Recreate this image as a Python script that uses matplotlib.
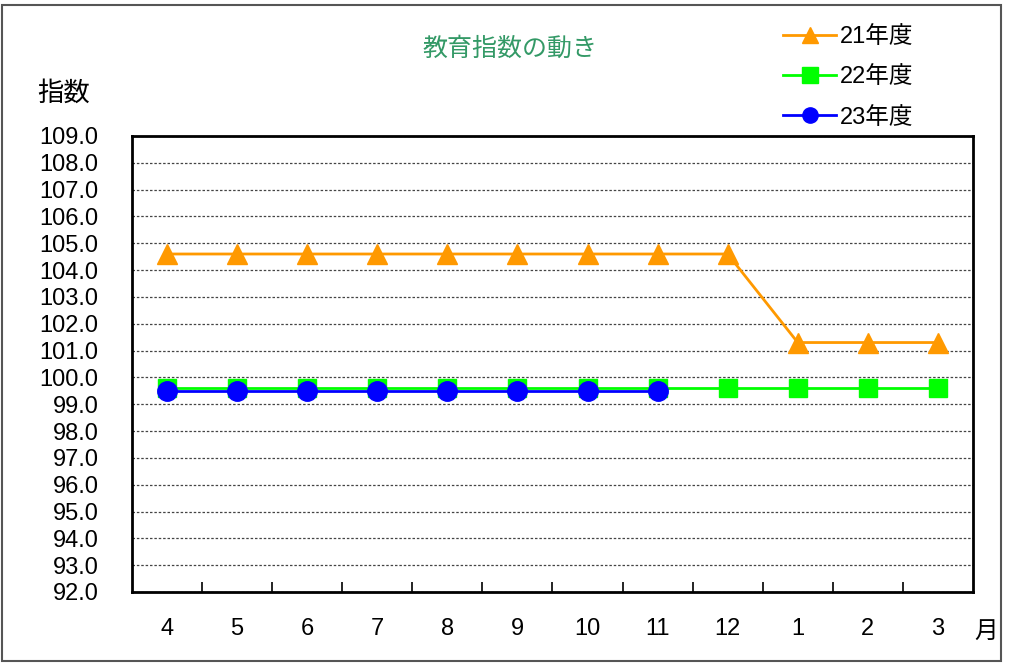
import numpy as np
import matplotlib
matplotlib.use("Agg")
import matplotlib.pyplot as plt
from matplotlib.patches import Rectangle

plt.rcParams['font.family'] = ['Liberation Sans', 'Noto Sans CJK JP', 'DejaVu Sans']

# データ
tsuki = ['4', '5', '6', '7', '8', '9', '10', '11', '12', '1', '2', '3']
nendo21 = [104.6, 104.6, 104.6, 104.6, 104.6, 104.6, 104.6, 104.6, 104.6, 101.3, 101.3, 101.3]
nendo22 = [99.6, 99.6, 99.6, 99.6, 99.6, 99.6, 99.6, 99.6, 99.6, 99.6, 99.6, 99.6]
nendo23 = [99.5, 99.5, 99.5, 99.5, 99.5, 99.5, 99.5, 99.5]
y_ticks = np.arange(92.0, 109.5, 1.0)

fig = plt.figure(figsize=(10.09, 6.63), dpi=100)
ax = fig.add_axes([0.1308, 0.1071, 0.8335, 0.6878])

x = np.arange(len(tsuki))
l21, = ax.plot(x, nendo21, color='#FF9900', lw=2, marker='^', ms=15, zorder=3, label='21年度')
l22, = ax.plot(x, nendo22, color='#00FF00', lw=2, marker='s', ms=13, zorder=3, label='22年度')
l23, = ax.plot(x[:len(nendo23)], nendo23, color='#0000FF', lw=2, marker='o', ms=14, zorder=4, label='23年度')

ax.set_xlim(-0.5, len(tsuki) - 0.5)
ax.set_ylim(92, 109)
ax.set_yticks(y_ticks)
ax.set_yticklabels(['{:.1f}'.format(v) for v in y_ticks], fontsize=17)
ax.set_xticks(x)
ax.set_xticklabels(tsuki, fontsize=17)
ax.set_xticks(x[:-1] + 0.5, minor=True)
ax.tick_params(axis='x', which='major', length=0, pad=19)
ax.tick_params(axis='x', which='minor', direction='in', length=7, width=1.2)
ax.tick_params(axis='y', length=0, pad=24)
ax.grid(axis='y', color='#444444', lw=0.9, ls=(0, (2, 1.5)))
ax.set_axisbelow(True)
for s in ax.spines.values():
    s.set_linewidth(2)
    s.set_color('black')

fig.text(0.505, 0.927, '教育指数の動き', color='#339966', fontsize=18, ha='center', va='center',
         family=['Noto Sans CJK JP'])
fig.text(0.063, 0.859, '指数', fontsize=19, ha='center', va='center', family=['Noto Sans CJK JP'])
fig.text(0.977, 0.048, '月', fontsize=17, ha='center', va='center', family=['Noto Sans CJK JP'])

leg = fig.legend(handles=[l21, l22, l23], loc='upper left', bbox_to_anchor=(0.755, 0.993),
                 frameon=False, handlelength=2.25, labelspacing=0.78, handletextpad=0.17,
                 prop={'family': ['Liberation Sans', 'Noto Sans CJK JP'], 'size': 17})
for h in leg.legend_handles:
    h.set_markersize(11)

fig.patches.append(Rectangle((0.002, 0.003), 0.99, 0.99, transform=fig.transFigure,
                             fill=False, edgecolor='#555555', lw=1.5))

fig.savefig('out.png', dpi=100)
